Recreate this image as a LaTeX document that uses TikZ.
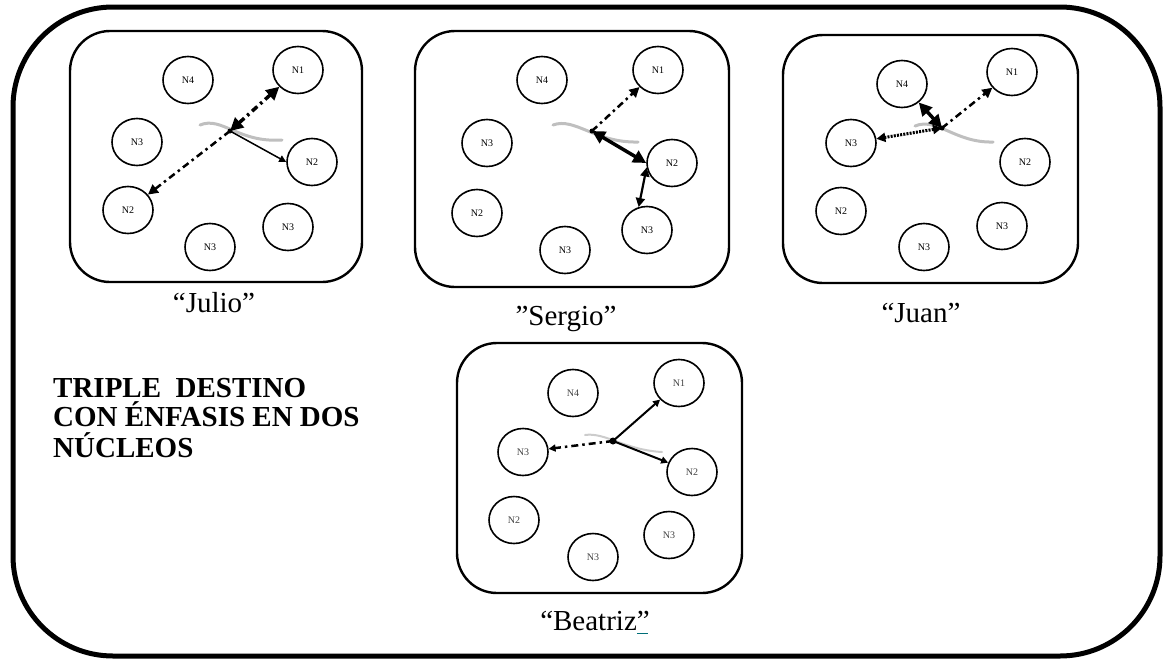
\documentclass[tikz,border=0pt]{standalone}
\usepackage{fontspec}
\setmainfont{Liberation Serif}
\usetikzlibrary{arrows.meta,shapes.geometric}
\definecolor{linkteal}{RGB}{0,110,120}
\begin{document}
\begin{tikzpicture}[x=1pt,y=-1pt,
  nuc/.style={ellipse,draw,line width=1.6pt,minimum width=50pt,minimum height=47pt,inner sep=0pt,font=\fontsize{10}{12}\selectfont},
  panel/.style={draw,line width=2.4pt,rounded corners=40pt},
  wave/.style={draw=black!25,line width=3pt,line cap=round},
  dashdot/.style={dash pattern=on 7pt off 4pt on 2.5pt off 4pt},
  dens/.style={dash pattern=on 2pt off 1.2pt},
  bigboth/.style={arrows={Triangle[length=13pt,width=13pt]-Triangle[length=13pt,width=13pt]}},
  midboth/.style={arrows={Triangle[length=9pt,width=9pt]-Triangle[length=9pt,width=9pt]}},
  smallend/.style={arrows={-Triangle[length=7pt,width=7pt]}},
  midend/.style={arrows={-Triangle[length=10pt,width=10pt]}},
  caption/.style={font=\fontsize{29}{32}\selectfont,anchor=base},
  title/.style={font=\fontsize{29}{32}\selectfont\bfseries,anchor=base west,inner sep=0pt},
  hubdot/.style={fill=black,circle,inner sep=0pt,minimum size=5pt}
]
\useasboundingbox (0,0) rectangle (1168,659);
% outer frame
\draw[line width=5pt,rounded corners=100pt] (13,7) rectangle (1160,656);

% ---------------- Julio ----------------
\draw[panel] (70,31) rectangle (362,282);
\node[nuc] (j1) at (298,70) {N1};
\node[nuc] (j4) at (188,80) {N4};
\node[nuc] (j3a) at (137,142) {N3};
\node[nuc] (j2a) at (312,162) {N2};
\node[nuc] (j2b) at (128,210) {N2};
\node[nuc] (j3b) at (288,227) {N3};
\node[nuc] (j3c) at (210,247) {N3};
\coordinate (jh) at (230,131);
\draw[wave] (200,125) .. controls (222,116) and (238,143) .. (282,140);
\node[hubdot] (jhd) at (jh) {};
\draw[line width=3.5pt,dashdot,bigboth] (jh) -- (j1);
\draw[line width=2.5pt,dashdot,midend] (jh) -- (j2b);
\draw[line width=1.5pt,smallend] (jh) -- (j2a.west);
\node[caption] (jc) at (214,312) {“Julio”};

% ---------------- Sergio ----------------
\draw[panel] (415,31) rectangle (729,287);
\node[nuc] (s1) at (658,70) {N1};
\node[nuc] (s4) at (542,80) {N4};
\node[nuc] (s3a) at (487,143) {N3};
\node[nuc] (s2a) at (672,163) {N2};
\node[nuc] (s2b) at (477,213) {N2};
\node[nuc] (s3b) at (647,230) {N3};
\node[nuc] (s3c) at (565,250) {N3};
\coordinate (sh) at (592,131);
\draw[wave] (553,125) .. controls (575,117) and (595,143) .. (638,142);
\node[hubdot] (shd) at (sh) {};
\draw[line width=2.5pt,dashdot,midend] (sh) -- (s1);
\draw[line width=3.5pt,bigboth] (sh) -- (s2a.west);
\draw[line width=2.2pt,midboth] (s2a.190) -- (s3b.110);
\node[caption] (sc) at (566,325) {”Sergio”};

% ---------------- Juan ----------------
\draw[panel] (783,35) rectangle (1078,283);
\node[nuc] (u1) at (1012,72) {N1};
\node[nuc] (u4) at (902,84) {N4};
\node[nuc] (u3a) at (851,143) {N3};
\node[nuc] (u2a) at (1025,162) {N2};
\node[nuc] (u2b) at (841,211) {N2};
\node[nuc] (u3b) at (1002,226) {N3};
\node[nuc] (u3c) at (924,247) {N3};
\coordinate (uh) at (942,128);
\draw[wave] (915,126) .. controls (937,117) and (955,143) .. (993,142);
\node[hubdot] (uhd) at (uh) {};
\draw[line width=3.5pt,bigboth] (uh) -- (u4);
\draw[line width=2.5pt,dashdot,midend] (uh) -- (u1);
\draw[line width=3pt,dens,midboth] (uh) -- (u3a);
\node[caption] (uc) at (921,322) {“Juan”};

% ---------------- Beatriz ----------------
\draw[panel] (457,343) rectangle (742,593);
\begin{scope}[nuc/.append style={text=black!75}]
\node[nuc] (b1) at (679,383) {N1};
\node[nuc] (b4) at (573,393) {N4};
\node[nuc] (b3a) at (523,452) {N3};
\node[nuc] (b2a) at (692,472) {N2};
\node[nuc] (b2b) at (514,520) {N2};
\node[nuc] (b3b) at (669,535) {N3};
\node[nuc] (b3c) at (593,557) {N3};
\end{scope}
\coordinate (bh) at (613,441);
\draw[wave,line width=2pt,draw=black!20] (585,435) .. controls (605,432) and (625,450) .. (662,452);
\node[hubdot,minimum size=7pt] (bhd) at (bh) {};
\draw[line width=2pt,smallend] (bh) -- (b1);
\draw[line width=2pt,smallend] (bh) -- (b2a);
\draw[line width=2.5pt,dashdot,smallend] (bh) -- (b3a);
\node[caption] (bc) at (595,630) {“Beatriz\rlap{\color{linkteal}\rule[-4pt]{11pt}{1.2pt}}”};

% ---------------- title ----------------
\node[title] (t1) at (53,397) {TRIPLE\ \ DESTINO};
\node[title] (t2) at (53,426) {CON ÉNFASIS EN DOS};
\node[title] (t3) at (53,457) {NÚCLEOS};
\end{tikzpicture}
\end{document}
